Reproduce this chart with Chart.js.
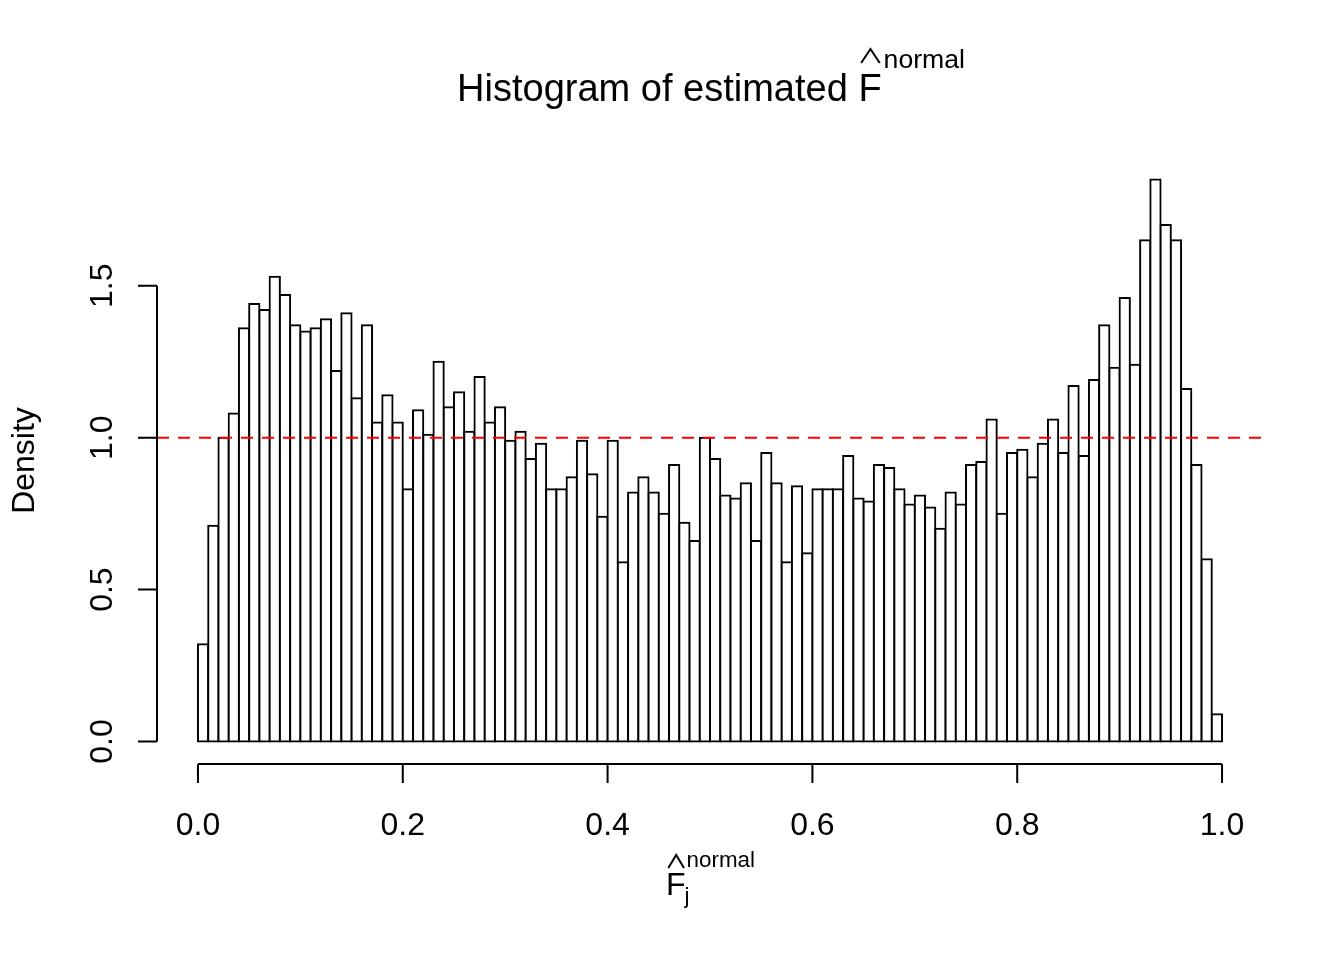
<!DOCTYPE html>
<html><head><meta charset="utf-8">
<script src="https://cdn.jsdelivr.net/npm/chart.js@4/dist/chart.umd.min.js"></script>
<style>html,body{margin:0;padding:0;background:#fff;}#wrap{width:1344px;height:960px;}</style>
</head><body><div id="wrap"><canvas id="c" width="1344" height="960"></canvas></div>
<script>
// ---- data ----
const binStart = 0;
const binWidth = 0.01;
const density = [
  0.32, 0.71, 1.00, 1.08, 1.36, 1.44, 1.42, 1.53, 1.47, 1.37,
  1.35, 1.36, 1.39, 1.22, 1.41, 1.13, 1.37, 1.05, 1.14, 1.05,
  0.83, 1.09, 1.01, 1.25, 1.10, 1.15, 1.02, 1.20, 1.05, 1.10,
  0.99, 1.02, 0.93, 0.98, 0.83, 0.83, 0.87, 0.99, 0.88, 0.74,
  0.99, 0.59, 0.82, 0.87, 0.82, 0.75, 0.91, 0.72, 0.66, 1.00,
  0.93, 0.81, 0.80, 0.85, 0.66, 0.95, 0.85, 0.59, 0.84, 0.62,
  0.83, 0.83, 0.83, 0.94, 0.80, 0.79, 0.91, 0.90, 0.83, 0.78,
  0.81, 0.77, 0.70, 0.82, 0.78, 0.91, 0.92, 1.06, 0.75, 0.95,
  0.96, 0.87, 0.98, 1.06, 0.95, 1.17, 0.94, 1.19, 1.37, 1.23,
  1.46, 1.24, 1.65, 1.85, 1.70, 1.65, 1.16, 0.91, 0.60, 0.09
];
const xTicks = [0, 0.2, 0.4, 0.6, 0.8, 1.0];
const xTickLabels = ["0.0", "0.2", "0.4", "0.6", "0.8", "1.0"];
const yTicks = [0, 0.5, 1.0, 1.5];
const yTickLabels = ["0.0", "0.5", "1.0", "1.5"];
const refLine = 1.0;
const titleMain = "Histogram of estimated ";
const titleSym = "F";
const titleSup = "normal";
const xLabelSym = "F";
const xLabelSup = "normal";
const xLabelSub = "j";
const yLabel = "Density";

const points = density.map((d, i) => ({ x: binStart + binWidth * (i + 0.5), y: d }));

const FONT = '"Liberation Sans", Arial, Helvetica, sans-serif';

function hat(ctx, x0, x1, yBase, yTop) {
  ctx.beginPath();
  ctx.moveTo(x0, yBase);
  ctx.lineTo((x0 + x1) / 2, yTop);
  ctx.lineTo(x1, yBase);
  ctx.stroke();
}

const decor = {
  id: 'decor',
  afterDatasetsDraw(chart) {
    const ctx = chart.ctx;
    const a = chart.chartArea;
    const ys = chart.scales.y;
    ctx.save();
    ctx.strokeStyle = '#FF0000';
    ctx.lineWidth = 2;
    ctx.setLineDash([12, 9]);
    const yr = ys.getPixelForValue(refLine);
    ctx.beginPath();
    ctx.moveTo(a.left, yr);
    ctx.lineTo(a.right, yr);
    ctx.stroke();
    ctx.restore();
  },
  afterDraw(chart) {
    const ctx = chart.ctx;
    const a = chart.chartArea;
    const xs = chart.scales.x, ys = chart.scales.y;
    ctx.save();
    ctx.strokeStyle = '#000';
    ctx.fillStyle = '#000';
    ctx.lineWidth = 2;
    ctx.setLineDash([]);
    const tick = 19;
    // x axis
    const xa = Math.round(a.bottom);
    ctx.beginPath();
    ctx.moveTo(xs.getPixelForValue(xTicks[0]), xa);
    ctx.lineTo(xs.getPixelForValue(xTicks[xTicks.length - 1]), xa);
    xTicks.forEach(v => {
      const px = xs.getPixelForValue(v);
      ctx.moveTo(px, xa);
      ctx.lineTo(px, xa + tick);
    });
    ctx.stroke();
    ctx.font = '32px ' + FONT;
    ctx.textAlign = 'center';
    ctx.textBaseline = 'alphabetic';
    xTicks.forEach((v, i) => {
      ctx.fillText(xTickLabels[i], xs.getPixelForValue(v), 835);
    });
    // y axis
    const ya = Math.round(a.left);
    ctx.beginPath();
    ctx.moveTo(ya, ys.getPixelForValue(yTicks[0]));
    ctx.lineTo(ya, ys.getPixelForValue(yTicks[yTicks.length - 1]));
    yTicks.forEach(v => {
      const py = ys.getPixelForValue(v);
      ctx.moveTo(ya, py);
      ctx.lineTo(ya - tick, py);
    });
    ctx.stroke();
    yTicks.forEach((v, i) => {
      ctx.save();
      ctx.translate(112, ys.getPixelForValue(v));
      ctx.rotate(-Math.PI / 2);
      ctx.fillText(yTickLabels[i], 0, 0);
      ctx.restore();
    });
    // y label
    ctx.save();
    ctx.translate(34, (a.top + a.bottom) / 2);
    ctx.rotate(-Math.PI / 2);
    ctx.fillText(yLabel, 0, 0);
    ctx.restore();

    const cx = (a.left + a.right) / 2;
    ctx.textAlign = 'left';
    // title
    const tMain = 38, tSup = 26.6;
    ctx.font = tMain + 'px ' + FONT;
    const wMain = ctx.measureText(titleMain).width;
    const wF = ctx.measureText(titleSym).width;
    ctx.font = tSup + 'px ' + FONT;
    const wSup = ctx.measureText(titleSup).width;
    let x0 = cx - (wMain + wF + wSup) / 2;
    const tb = 101;
    ctx.font = tMain + 'px ' + FONT;
    ctx.fillText(titleMain, x0, tb);
    const fx = x0 + wMain;
    ctx.fillText(titleSym, fx, tb);
    hat(ctx, fx + 0.12 * wF, fx + 0.92 * wF, tb - 38, tb - 52);
    ctx.font = tSup + 'px ' + FONT;
    ctx.fillText(titleSup, fx + wF + 2, tb - 33);

    // x label
    const lMain = 32, lSup = 22.4;
    ctx.font = lMain + 'px ' + FONT;
    const wF2 = ctx.measureText(xLabelSym).width;
    ctx.font = lSup + 'px ' + FONT;
    const wSup2 = Math.max(ctx.measureText(xLabelSup).width, ctx.measureText(xLabelSub).width);
    const lx = cx - (wF2 + wSup2) / 2;
    const lb = 895;
    ctx.font = lMain + 'px ' + FONT;
    ctx.fillText(xLabelSym, lx, lb);
    hat(ctx, lx + 0.12 * wF2, lx + 0.92 * wF2, lb - 27, lb - 40);
    ctx.font = lSup + 'px ' + FONT;
    ctx.fillText(xLabelSup, lx + wF2 + 1, lb - 28);
    ctx.fillText(xLabelSub, lx + wF2 - 1, lb + 8);
    ctx.restore();
  }
};

new Chart(document.getElementById('c'), {
  type: 'bar',
  data: {
    datasets: [{
      data: points,
      backgroundColor: '#FFFFFF',
      borderColor: '#000000',
      borderWidth: 2,
      inflateAmount: 1,
      borderSkipped: false,
      barPercentage: 1.0,
      categoryPercentage: 1.0
    }]
  },
  options: {
    responsive: false,
    devicePixelRatio: 1,
    animation: false,
    layout: { padding: { left: 157, right: 81, top: 157, bottom: 196 } },
    plugins: { legend: { display: false }, tooltip: { enabled: false }, title: { display: false } },
    scales: {
      x: { type: 'linear', offset: false, min: -0.04, max: 1.04, display: false, grid: { display: false, offset: false } },
      y: { min: -0.074, max: 1.924, display: false, grid: { display: false } }
    }
  },
  plugins: [decor]
});
</script>
</body></html>
